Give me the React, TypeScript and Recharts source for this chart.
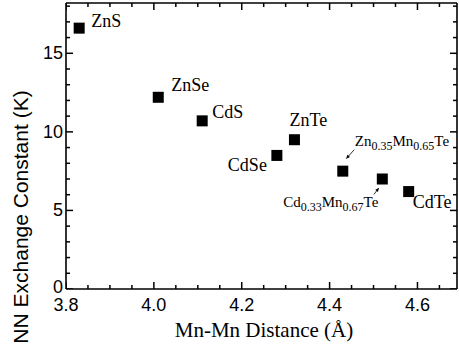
import { ScatterChart, Scatter, XAxis, YAxis, Label, ReferenceLine } from "recharts";

// Mn-Mn distance (Å) vs nearest-neighbour exchange constant (K)
const compounds = ["ZnS", "ZnSe", "CdS", "CdSe", "ZnTe", "Zn0.35Mn0.65Te", "Cd0.33Mn0.67Te", "CdTe"];
const mnDistance = [3.83, 4.01, 4.11, 4.28, 4.32, 4.43, 4.52, 4.58];
const exchangeJ = [16.6, 12.2, 10.7, 8.5, 9.5, 7.5, 7.0, 6.2];

const xTicks = [3.8, 3.85, 3.9, 3.95, 4.0, 4.05, 4.1, 4.15, 4.2, 4.25, 4.3, 4.35, 4.4, 4.45, 4.5, 4.55, 4.6, 4.65];
const xMajor = [3.8, 4.0, 4.2, 4.4, 4.6];
const yTicks = [0, 1, 2, 3, 4, 5, 6, 7, 8, 9, 10, 11, 12, 13, 14, 15, 16, 17, 18];
const yMajor = [0, 5, 10, 15];

const data = compounds.map((name, i) => ({ name, x: mnDistance[i], y: exchangeJ[i] }));

const X_MIN = 3.8;
const X_MAX = 4.69;
const Y_MAX = 18.2;
const PLOT_TOP = 3;
const PLOT_LEFT = 66;
const PLOT_RIGHT = 457;
const PLOT_BOTTOM = 289;

const isXMajor = (v: number) => xMajor.some((m) => Math.abs(m - v) < 1e-6);

// tick marks on all four frame edges, placed through the chart scales
const tickData = [
  ...xTicks.map((v) => ({ x: v, y: 0, dir: "up", major: isXMajor(v) })),
  ...xTicks.map((v) => ({ x: v, y: Y_MAX, dir: "down", major: isXMajor(v) })),
  ...yTicks.map((v) => ({ x: X_MIN, y: v, dir: "right", major: yMajor.includes(v) })),
  ...yTicks.map((v) => ({ x: X_MAX, y: v, dir: "left", major: yMajor.includes(v) })),
];

const SANS = "'Liberation Sans', Arial, sans-serif";
const SERIF = "'Liberation Serif', 'Times New Roman', serif";

// where each label sits relative to its point
const labelPos: Record<string, { dx: number; dy: number; anchor: "start" | "end"; size: number; arrow?: number[] }> = {
  ZnS: { dx: 12, dy: -1, anchor: "start", size: 18 },
  ZnSe: { dx: 13, dy: -6, anchor: "start", size: 18 },
  CdS: { dx: 10, dy: -3, anchor: "start", size: 18 },
  CdSe: { dx: -10, dy: 16, anchor: "end", size: 18 },
  ZnTe: { dx: -5, dy: -14, anchor: "start", size: 18 },
  "Zn0.35Mn0.65Te": { dx: 12, dy: -25, anchor: "start", size: 15, arrow: [11.5, -21.5, 3.5, -12.5] },
  "Cd0.33Mn0.67Te": { dx: -4, dy: 28, anchor: "end", size: 15, arrow: [-8.5, 15.5, -3.5, 9] },
  CdTe: { dx: 4, dy: 16.5, anchor: "start", size: 18 },
};

function Marker(props: any) {
  const { cx, cy, payload } = props;
  const lp = labelPos[payload.name];
  const parts = String(payload.name).split(/(\d+\.\d+)/).filter((s) => s.length);
  let shift = 0;
  const spans = parts.map((p, i) => {
    const isSub = /^\d/.test(p);
    const dy = isSub ? 4 - shift : -shift;
    shift = isSub ? 4 : 0;
    return (
      <tspan key={i} dy={dy} fontSize={isSub ? 12 : lp.size}>
        {p}
      </tspan>
    );
  });
  let arrow = null;
  if (lp.arrow) {
    const [x1, y1, x2, y2] = lp.arrow;
    const ang = Math.atan2(y2 - y1, x2 - x1);
    const ax = cx + x2;
    const ay = cy + y2;
    const h = 4;
    const p1 = [ax - h * Math.cos(ang - 0.45), ay - h * Math.sin(ang - 0.45)];
    const p2 = [ax - h * Math.cos(ang + 0.45), ay - h * Math.sin(ang + 0.45)];
    arrow = (
      <g>
        <line x1={cx + x1} y1={cy + y1} x2={ax} y2={ay} stroke="#000" strokeWidth={0.8} />
        <polygon points={`${ax},${ay} ${p1[0]},${p1[1]} ${p2[0]},${p2[1]}`} fill="#000" />
      </g>
    );
  }
  return (
    <g>
      <rect x={cx - 5.5} y={cy - 5.5} width={11} height={11} fill="#000" />
      {arrow}
      <text x={cx + lp.dx} y={cy + lp.dy} textAnchor={lp.anchor} fontFamily={SERIF} fontSize={lp.size} fill="#000">
        {spans}
      </text>
    </g>
  );
}

function TickMark(props: any) {
  const { cx, cy, payload } = props;
  const len = payload.major ? 7 : 4;
  const d: Record<string, [number, number]> = { up: [0, -1], down: [0, 1], left: [-1, 0], right: [1, 0] };
  const [ux, uy] = d[payload.dir];
  return <path d={`M${cx},${cy}L${cx + ux * len},${cy + uy * len}`} stroke="#000" strokeWidth={1.5} fill="none" />;
}

function XTick(props: any) {
  const { x, y, payload } = props;
  const v = Number(payload.value);
  if (!isXMajor(v)) return <g />;
  return (
    <text x={x} y={y + 22} textAnchor="middle" fontFamily={SANS} fontSize={18} fill="#000">
      {v.toFixed(1)}
    </text>
  );
}

function YTick(props: any) {
  const { x, y, payload } = props;
  const v = Number(payload.value);
  if (!yMajor.includes(v)) return <g />;
  return (
    <text x={x - 3} y={y + (v === 0 ? 4 : 6)} textAnchor="end" fontFamily={SANS} fontSize={18} fill="#000">
      {v}
    </text>
  );
}

export default function App() {
  return (
    <div style={{ position: "absolute", left: 0, top: 0, background: "#fff" }}>
      <ScatterChart width={459} height={349} margin={{ top: PLOT_TOP, right: 459 - PLOT_RIGHT, bottom: 0, left: 0 }}>
        <XAxis
          type="number"
          dataKey="x"
          domain={[X_MIN, X_MAX]}
          allowDataOverflow
          ticks={xTicks}
          interval={0}
          height={349 - PLOT_BOTTOM}
          tickSize={0}
          tickMargin={0}
          tickLine={false}
          axisLine={{ stroke: "#000", strokeWidth: 1.6 }}
          tick={(p: any) => <XTick {...p} />}
        >
          <Label
            content={() => (
              <text x={264} y={337} textAnchor="middle" fontFamily={SERIF} fontSize={21} fill="#000">
                Mn-Mn Distance (Å)
              </text>
            )}
          />
        </XAxis>
        <YAxis
          type="number"
          dataKey="y"
          domain={[0, Y_MAX]}
          allowDataOverflow
          ticks={yTicks}
          interval={0}
          width={PLOT_LEFT}
          tickSize={0}
          tickMargin={0}
          tickLine={false}
          axisLine={{ stroke: "#000", strokeWidth: 1.6 }}
          tick={(p: any) => <YTick {...p} />}
        >
          <Label
            content={() => (
              <text
                x={0}
                y={0}
                transform="translate(28,217) rotate(-90)"
                textAnchor="middle"
                fontFamily={SANS}
                fontSize={21}
                fill="#000"
              >
                NN Exchange Constant (K)
              </text>
            )}
          />
        </YAxis>
        <ReferenceLine y={Y_MAX} stroke="#000" strokeWidth={1.6} ifOverflow="visible" />
        <ReferenceLine x={X_MAX} stroke="#000" strokeWidth={1.6} ifOverflow="visible" />
        <Scatter data={tickData} shape={TickMark} isAnimationActive={false} />
        <Scatter data={data} shape={Marker} isAnimationActive={false} />
      </ScatterChart>
    </div>
  );
}
